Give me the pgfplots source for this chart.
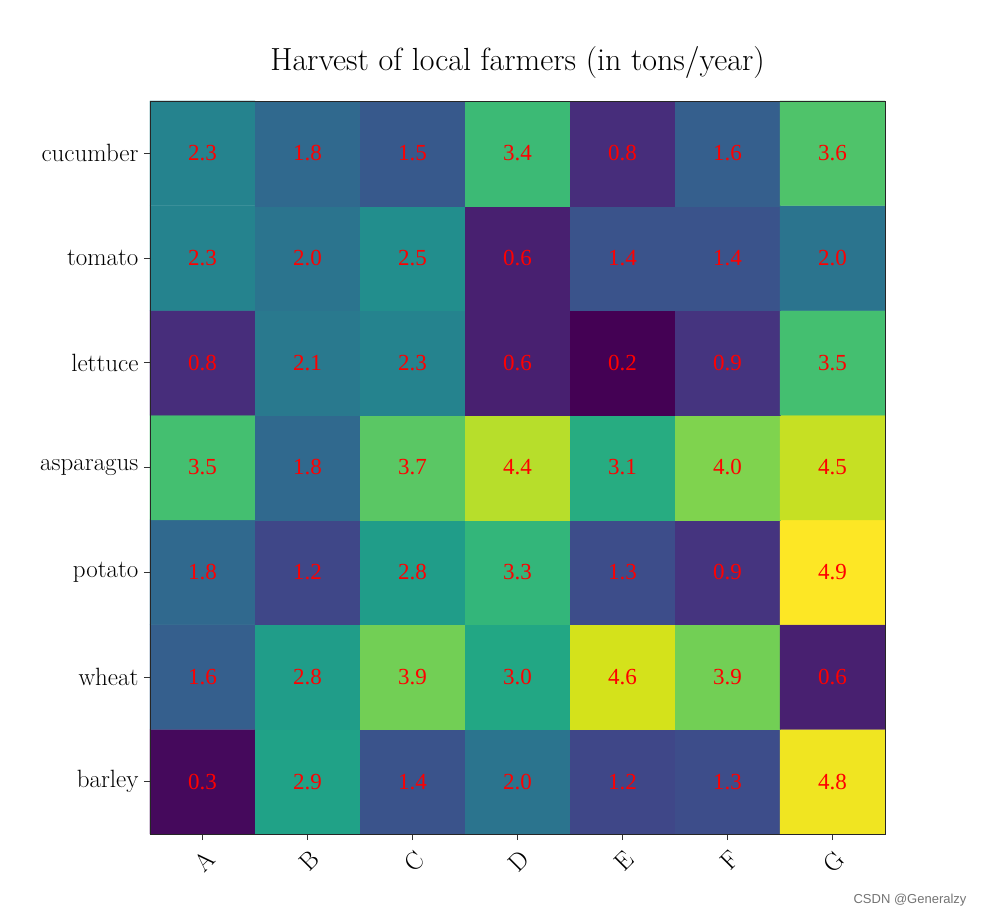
\documentclass[border=0pt]{standalone}
\usepackage{pgfplots}
\pgfplotsset{compat=1.18}
\usepackage{fontspec}
\newfontfamily\numfont{Liberation Serif}
\newfontfamily\wmfont{Liberation Sans}
\begin{document}
\begin{tikzpicture}
\begin{axis}[
  name=ax,
  scale only axis,
  width=735pt, height=733pt,
  xmin=-0.5, xmax=6.5, ymin=-0.5, ymax=6.5,
  colormap/viridis,
  point meta min=0.2, point meta max=4.9,
  xtick={0,1,2,3,4,5,6},
  xticklabels={A,B,C,D,E,F,G},
  ytick={0,1,2,3,4,5,6},
  yticklabels={barley,wheat,potato,asparagus,lettuce,tomato,cucumber},
  tick pos=left,
  tick align=outside,
  major tick length=6pt,
  tick style={black!80, line width=0.8pt},
  axis line style={black!85, line width=0.9pt},
  x tick label style={rotate=45, anchor=north east, font=\fontsize{25}{28}\selectfont, xshift=-2pt, yshift=-4pt},
  y tick label style={font=\fontsize{25}{28}\selectfont, xshift=-2pt},
  title={Harvest of local farmers (in tons/year)},
  title style={font=\fontsize{32}{36}\selectfont, yshift=13pt},
  axis on top,
  enlargelimits=false,
]
\addplot[matrix plot*, mesh/cols=7, point meta=explicit] table[meta=z] {
x y z
0 0 0.3
1 0 2.9
2 0 1.4
3 0 2.0
4 0 1.2
5 0 1.3
6 0 4.8
0 1 1.6
1 1 2.8
2 1 3.9
3 1 3.0
4 1 4.6
5 1 3.9
6 1 0.6
0 2 1.8
1 2 1.2
2 2 2.8
3 2 3.3
4 2 1.3
5 2 0.9
6 2 4.9
0 3 3.5
1 3 1.8
2 3 3.7
3 3 4.4
4 3 3.1
5 3 4.0
6 3 4.5
0 4 0.8
1 4 2.1
2 4 2.3
3 4 0.6
4 4 0.2
5 4 0.9
6 4 3.5
0 5 2.3
1 5 2.0
2 5 2.5
3 5 0.6
4 5 1.4
5 5 1.4
6 5 2.0
0 6 2.3
1 6 1.8
2 6 1.5
3 6 3.4
4 6 0.8
5 6 1.6
6 6 3.6
};
\addplot[draw=none, mark=none, point meta=explicit,
  nodes near coords={\pgfmathprintnumber[fixed,zerofill,precision=1,assume math mode=true]{\pgfplotspointmeta}},
  nodes near coords align=center,
  every node near coord/.append style={text=red, font=\numfont\fontsize{23}{26}\selectfont}
] table[meta=z] {
x y z
0 0 0.3
1 0 2.9
2 0 1.4
3 0 2.0
4 0 1.2
5 0 1.3
6 0 4.8
0 1 1.6
1 1 2.8
2 1 3.9
3 1 3.0
4 1 4.6
5 1 3.9
6 1 0.6
0 2 1.8
1 2 1.2
2 2 2.8
3 2 3.3
4 2 1.3
5 2 0.9
6 2 4.9
0 3 3.5
1 3 1.8
2 3 3.7
3 3 4.4
4 3 3.1
5 3 4.0
6 3 4.5
0 4 0.8
1 4 2.1
2 4 2.3
3 4 0.6
4 4 0.2
5 4 0.9
6 4 3.5
0 5 2.3
1 5 2.0
2 5 2.5
3 5 0.6
4 5 1.4
5 5 1.4
6 5 2.0
0 6 2.3
1 6 1.8
2 6 1.5
3 6 3.4
4 6 0.8
5 6 1.6
6 6 3.6
};
\end{axis}
\node[anchor=base east, text=black!55, font=\wmfont\fontsize{13}{15}\selectfont] at ([shift={(85pt,-69pt)}]ax.south east) {CSDN @Generalzy};
\pgfresetboundingbox
\path ([shift={(-150pt,-82pt)}]ax.south west) rectangle ([shift={(100pt,101pt)}]ax.north east);
\end{tikzpicture}
\end{document}
